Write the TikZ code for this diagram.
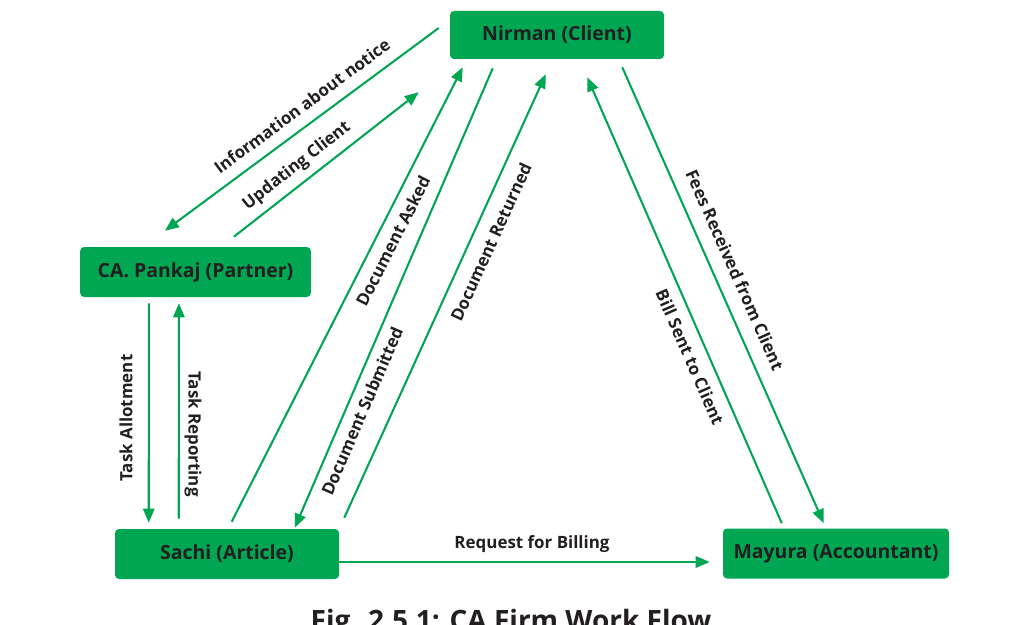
\documentclass[tikz,border=0pt]{standalone}
\usepackage{fontspec}
\setmainfont{Open Sans}
\usetikzlibrary{arrows.meta,calc}
\definecolor{flowgreen}{RGB}{0,166,81}
\definecolor{inkdark}{RGB}{35,31,32}

\begin{document}
\begin{tikzpicture}[x=0.75pt,y=-0.75pt,
  actor/.style={fill=flowgreen, rounded corners=3pt, text=inkdark,
    font=\bfseries\fontsize{14.6}{17}\selectfont, inner sep=0pt, minimum height=37.5pt},
  flow/.style={draw=flowgreen, line width=1.55pt, -{Triangle[length=10.5pt,width=8.5pt]}},
  lbl/.style={text=inkdark, font=\bfseries\fontsize{12.7}{15}\selectfont, inner sep=0pt},
  caption/.style={text=inkdark, font=\bfseries\fontsize{21}{24}\selectfont, inner sep=0pt}]
\useasboundingbox (0,0) rectangle (1019,624);
\clip (0,0) rectangle (1019,624);

% the four people of the firm
\node[actor, minimum width=160.5pt, minimum height=36pt] (nirman) at (557,35) {Nirman (Client)};
\node[actor, minimum width=173pt] (pankaj) at (195.5,272) {CA. Pankaj (Partner)};
\node[actor, minimum width=168pt] (sachi) at (227,554) {Sachi (Article)};
\node[actor, minimum width=169.5pt] (mayura) at (836,553.5) {Mayura (Accountant)};

% client <-> partner
\draw[flow] ([shift={(-11,-7)}]nirman.west) -- ([shift={(85,-16)}]pankaj.north west);
\draw[flow] ([shift={(154,-10)}]pankaj.north west) -- ([shift={(-31,33)}]nirman.south west);

% client <-> article
\draw[flow] ([shift={(117,-7)}]sachi.north west) -- ([shift={(13,8)}]nirman.south west);
\draw[flow] ([shift={(43,9)}]nirman.south west) -- ([shift={(180,-1)}]sachi.north west);
\draw[flow] ([shift={(5,-11)}]sachi.north east) -- ([shift={(96,15)}]nirman.south west);

% client <-> accountant
\draw[flow] ([shift={(-42,8)}]nirman.south east) -- ([shift={(101,-5)}]mayura.north west);
\draw[flow] ([shift={(59,-5)}]mayura.north west) -- ([shift={(-77,18)}]nirman.south east);

% partner <-> article
\draw[flow] ([shift={(69,6)}]pankaj.south west) -- ([shift={(34,-6)}]sachi.north west);
\draw[flow] ([shift={(64,-10)}]sachi.north west) -- ([shift={(99,6)}]pankaj.south west);

% article -> accountant
\draw[flow] ([shift={(0,8)}]sachi.east) -- ([shift={(-13,8.5)}]mayura.west);

% connector labels
\node[lbl, rotate=36.5] (l1) at (302,106) {Information about notice};
\node[lbl, rotate=38.1] (l2) at (297,166) {Updating Client};
\node[lbl, rotate=63.1] (l3) at (393,241) {Document Asked};
\node[lbl, rotate=66.7] (l4) at (362,411) {Document Submitted};
\node[lbl, rotate=65.5] (l5) at (491,242) {Document Returned};
\node[lbl, rotate=-66.1] (l6) at (735,270) {Fees Received from Client};
\node[lbl, rotate=-66.4] (l7) at (690,357) {Bill Sent to Client};
\node[lbl, rotate=90] (l8) at (126,418) {Task Allotment};
\node[lbl, rotate=-90] (l9) at (193,434) {Task Reporting};
\node[lbl] (l10) at (532,544) {Request for Billing};

% figure caption
\node[caption, anchor=base] (cap) at (511,630) {Fig. 2.5.1: CA Firm Work Flow};
\end{tikzpicture}
\end{document}
